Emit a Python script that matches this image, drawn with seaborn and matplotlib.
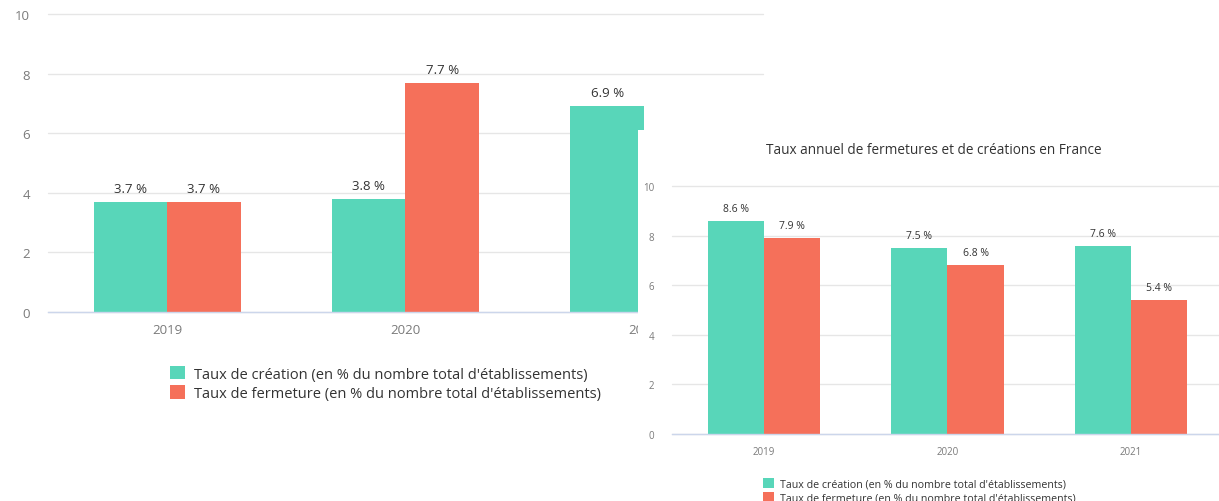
import numpy as np
import pandas as pd
import matplotlib
matplotlib.use("Agg")
import matplotlib.pyplot as plt
from matplotlib.patches import Rectangle
from matplotlib.transforms import Bbox
import seaborn as sns

# ---- data ----
years_left = ["2019", "2020", "2021"]
creation_left = [3.7, 3.8, 6.9]
fermeture_left = [3.7, 7.7, np.nan]  # 2021 closing bar hidden in the source image

years_right = ["2019", "2020", "2021"]
creation_right = [8.6, 7.5, 7.6]
fermeture_right = [7.9, 6.8, 5.4]

serie_creation = "Taux de création (en % du nombre total d'établissements)"
serie_fermeture = "Taux de fermeture (en % du nombre total d'établissements)"
inset_title = "Taux annuel de fermetures et de créations en France"
yticks = [0, 2, 4, 6, 8, 10]

TEAL = "#58D6B9"
CORAL = "#F5705A"
GRID = "#E6E6E6"
AXLINE = "#CCD6EB"
TICK = "#7A7A7A"
LABEL = "#333333"

sns.set_theme(style="white")
plt.rcParams["font.family"] = ["Open Sans", "DejaVu Sans"]

W, H = 1219, 502
fig = plt.figure(figsize=(W / 100, H / 100), dpi=100)
fig.patch.set_facecolor("white")


def fx(px):
    return px / W


def fy(py):
    return (H - py) / H


def make_df(years, cre, fer):
    return pd.DataFrame({
        "annee": years * 2,
        "valeur": list(cre) + list(fer),
        "serie": [serie_creation] * len(years) + [serie_fermeture] * len(years),
    })


def style_axes(ax, tick_fs, pad_y, pad_x):
    ax.set_xlim(-0.5, 2.5)
    ax.set_ylim(0, 10)
    ax.set_yticks(yticks)
    ax.set_yticklabels([str(t) for t in yticks])
    ax.yaxis.grid(True, color=GRID, linewidth=1)
    ax.set_axisbelow(True)
    for s in ["top", "right", "left"]:
        ax.spines[s].set_visible(False)
    ax.spines["bottom"].set_color(AXLINE)
    ax.spines["bottom"].set_linewidth(1)
    ax.tick_params(axis="both", length=0, labelsize=tick_fs, colors=TICK)
    ax.tick_params(axis="y", pad=pad_y)
    ax.tick_params(axis="x", pad=pad_x)
    ax.set_xlabel("")
    ax.set_ylabel("")
    ax.patch.set_alpha(0)
    for gl in ax.get_ygridlines():
        gl.set_clip_on(False)


# ---- left (background) chart ----
axL = fig.add_axes([fx(48), fy(313), fx(763) - fx(48), fy(15) - fy(313)], zorder=0)
dfL = make_df(years_left, creation_left, fermeture_left)
sns.barplot(data=dfL, x="annee", y="valeur", hue="serie",
            palette=[TEAL, CORAL], width=0.616, gap=0, ax=axL,
            edgecolor="none", linewidth=0, saturation=1)
style_axes(axL, 9.5, 13, 8)
for cont in axL.containers:
    labels = ["" if np.isnan(v) else f"{v:.1f} %" for v in cont.datavalues]
    axL.bar_label(cont, labels=labels, padding=5, fontsize=9.5, color=LABEL)
legL = axL.legend(loc="upper left", bbox_to_anchor=(fx(163), fy(360)),
                  bbox_transform=fig.transFigure, frameon=False, fontsize=10.5,
                  handlelength=1.0, handleheight=1.0, handletextpad=0.6,
                  labelspacing=0.25, borderpad=0, labelcolor=LABEL)
# the last year label of the background chart is hidden by the inset panel
clip = Bbox([[0, 0], [638, H]])
for lab in axL.get_xticklabels():
    lab.set_clip_box(clip)
    lab.set_clip_on(True)

# ---- white panel of the inset ----
fig.patches.append(Rectangle((fx(638), 0), 1 - fx(638), fy(131), transform=fig.transFigure,
                             facecolor="white", edgecolor="none", zorder=1))

# ---- right (inset) chart ----
axR = fig.add_axes([fx(672), fy(435), fx(1223) - fx(672), fy(187) - fy(435)], zorder=2)
dfR = make_df(years_right, creation_right, fermeture_right)
sns.barplot(data=dfR, x="annee", y="valeur", hue="serie",
            palette=[TEAL, CORAL], width=0.61, gap=0, ax=axR,
            edgecolor="none", linewidth=0, saturation=1)
style_axes(axR, 7, 13, 9)
for cont in axR.containers:
    axR.bar_label(cont, labels=[f"{v:.1f} %" for v in cont.datavalues],
                  padding=5, fontsize=7.5, color=LABEL)
fig.text(fx(934), fy(151), inset_title, ha="center", va="center",
         fontsize=9.8, color=LABEL, zorder=3)
legR = axR.legend(loc="upper left", bbox_to_anchor=(fx(758), fy(474)),
                  bbox_transform=fig.transFigure, frameon=False, fontsize=7.7,
                  handlelength=1.0, handleheight=1.0, handletextpad=0.6,
                  labelspacing=0.2, borderpad=0, labelcolor=LABEL)

fig.savefig("out.png", dpi=100, facecolor="white")
